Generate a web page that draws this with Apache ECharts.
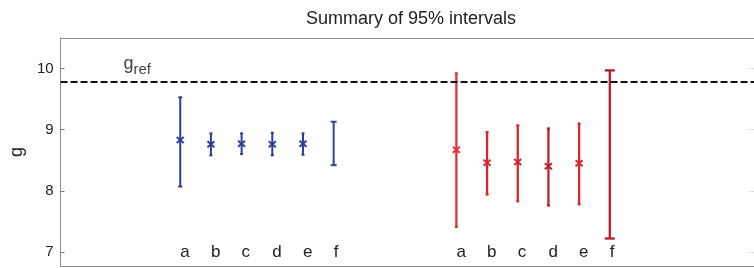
<!DOCTYPE html>
<html>
<head>
<meta charset="utf-8">
<script src="https://cdn.jsdelivr.net/npm/echarts@6/dist/echarts.min.js"></script>
<style>html,body{margin:0;padding:0;background:#fff;}#c{width:754px;height:268px;}</style>
</head>
<body>
<div id="c"></div>
<script>
// ---- data ----
const labels = ['a', 'b', 'c', 'd', 'e', 'f'];
const blueX = [1, 2, 3, 4, 5, 6];
const redX = [10, 11, 12, 13, 14, 15];
const blueLow  = [8.07, 8.58, 8.60, 8.58, 8.59, 8.42];
const blueHigh = [9.53, 8.94, 8.94, 8.95, 8.94, 9.13];
const blueMid  = [8.83, 8.76, 8.77, 8.76, 8.77, null];
const redLow   = [7.41, 7.94, 7.83, 7.76, 7.78, 7.22];
const redHigh  = [9.92, 8.96, 9.07, 9.02, 9.10, 9.97];
const redMid   = [8.67, 8.46, 8.47, 8.40, 8.45, null];
const gRef = 9.79;
const gRefLabelX = -0.85;
const yTicks = [7, 8, 9, 10];

// ---- styles ----
const blueColors = ['#2f3c98', '#2f3c98', '#2f3c98', '#2f3c98', '#2f3c98', '#37429e'];
const redColors = ['#e2323a', '#d8262f', '#d8262f', '#b9232f', '#d42a33', '#b31d2a'];
const blueCap = [4, 3, 3, 3, 3, 6];
const redCap = [3, 3, 3, 3, 3, 10];

const xMin = -2.9, xMax = 19.7;
const labelMap = {};
blueX.forEach((x, i) => labelMap[x] = labels[i]);
redX.forEach((x, i) => labelMap[x] = labels[i]);

function makeData(xs, lo, hi, mid) {
  return xs.map((x, i) => [x, lo[i], hi[i], mid[i] == null ? '-' : mid[i]]);
}

function makeRender(colors, caps, lw) {
  return function (params, api) {
    const i = params.dataIndex;
    const x = api.value(0);
    const pLo = api.coord([x, api.value(1)]);
    const pHi = api.coord([x, api.value(2)]);
    const col = colors[i];
    const cw = caps[i] / 2;
    const st = { stroke: col, lineWidth: lw };
    const children = [
      { type: 'line', shape: { x1: pLo[0], y1: pLo[1], x2: pHi[0], y2: pHi[1] }, style: st },
      { type: 'line', shape: { x1: pHi[0] - cw, y1: pHi[1], x2: pHi[0] + cw, y2: pHi[1] }, style: st },
      { type: 'line', shape: { x1: pLo[0] - cw, y1: pLo[1], x2: pLo[0] + cw, y2: pLo[1] }, style: st }
    ];
    const m = api.value(3);
    if (!isNaN(m)) {
      const pm = api.coord([x, m]);
      const w = 3.5, h = 3;
      children.push({ type: 'line', shape: { x1: pm[0] - w, y1: pm[1] - h, x2: pm[0] + w, y2: pm[1] + h }, style: { stroke: col, lineWidth: 2 } });
      children.push({ type: 'line', shape: { x1: pm[0] - w, y1: pm[1] + h, x2: pm[0] + w, y2: pm[1] - h }, style: { stroke: col, lineWidth: 2 } });
    }
    return { type: 'group', children };
  };
}

const chart = echarts.init(document.getElementById('c'), null, { renderer: 'canvas' });
const font = 'Liberation Sans, Arial, sans-serif';
chart.setOption({
  animation: false,
  backgroundColor: '#fff',
  textStyle: { fontFamily: font },
  title: {
    text: 'Summary of 95% intervals',
    left: 301, top: 5,
    textStyle: { fontSize: 18, fontWeight: 'normal', color: '#222', fontFamily: font }
  },
  grid: { left: 60, right: -1, top: 38, bottom: 2, show: false },
  xAxis: [{
    type: 'value', min: xMin, max: xMax,
    splitLine: { show: false },
    axisLine: { show: true, onZero: false, lineStyle: { color: '#8c8c8c' } },
    axisTick: { show: false },
    axisLabel: {
      inside: true, margin: 5, align: 'left',
      customValues: blueX.concat(redX),
      formatter: v => labelMap[v] || '',
      fontSize: 17, color: '#222', fontFamily: font
    }
  }, {
    type: 'value', min: xMin, max: xMax, position: 'top',
    splitLine: { show: false },
    axisLine: { show: true, onZero: false, lineStyle: { color: '#8c8c8c' } },
    axisTick: { show: false },
    axisLabel: { show: false }
  }],
  yAxis: [{
    type: 'value', min: 6.77, max: 10.5,
    name: 'g', nameLocation: 'middle', nameGap: 33,
    nameTextStyle: { fontSize: 18, color: '#222', fontFamily: font },
    splitLine: { show: false },
    axisLine: { show: true, onZero: false, lineStyle: { color: '#8c8c8c' } },
    axisTick: { show: true, inside: true, length: 4, customValues: yTicks, lineStyle: { color: '#777' } },
    axisLabel: { customValues: yTicks, fontSize: 15, color: '#222', margin: 7, fontFamily: font }
  }, {
    type: 'value', min: 6.77, max: 10.5, position: 'right',
    splitLine: { show: false },
    axisLine: { show: false, onZero: false },
    axisTick: { show: true, inside: true, length: 5, customValues: yTicks, lineStyle: { color: '#ddd' } },
    axisLabel: { show: false }
  }],
  series: [
    {
      type: 'custom', renderItem: makeRender(blueColors, blueCap, 2),
      data: makeData(blueX, blueLow, blueHigh, blueMid),
      encode: { x: 0, y: [1, 2] }, z: 3,
      markLine: {
        silent: true, symbol: 'none',
        label: { show: false },
        lineStyle: { color: '#111', width: 2, type: [7, 3] },
        data: [{ yAxis: gRef }]
      }
    },
    {
      type: 'custom', renderItem: makeRender(redColors, redCap, 2.3),
      data: makeData(redX, redLow, redHigh, redMid),
      encode: { x: 0, y: [1, 2] }, z: 3
    },
    {
      type: 'scatter', symbolSize: 0, silent: true,
      data: [[gRefLabelX, gRef]],
      label: {
        show: true, position: [0, -26], align: 'left', verticalAlign: 'top',
        formatter: 'g', fontSize: 18, color: '#111', fontFamily: font
      }
    },
    {
      type: 'scatter', symbolSize: 0, silent: true,
      data: [[gRefLabelX, gRef]],
      label: {
        show: true, position: [10, -19], align: 'left', verticalAlign: 'top',
        formatter: 'ref', fontSize: 15, color: '#111', fontFamily: font
      }
    }
  ]
});
</script>
</body>
</html>
